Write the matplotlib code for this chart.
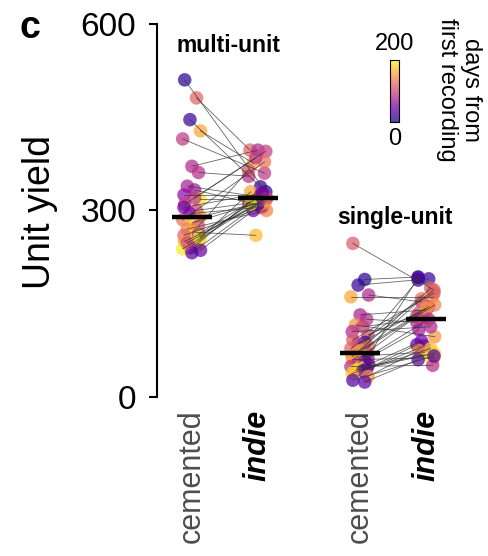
import numpy as np
import matplotlib
matplotlib.use("Agg")
from matplotlib import pyplot as plt

plt.rcParams['font.family'] = ['Liberation Sans', 'DejaVu Sans']

# Unit yields per recording (cemented vs indie), colour = days from first recording
multi_cemented = [510, 481, 446, 428, 415, 371, 361, 339, 333, 325, 318, 310, 300, 295, 290, 285, 280,
                  275, 270, 265, 260, 255, 250, 245, 240, 236, 238, 232, 262, 248, 320, 305, 258]
multi_indie = [330, 397, 338, 376, 360, 397, 355, 320, 310, 325, 318, 395, 312, 305, 310, 378, 312,
               365, 300, 260, 305, 330, 315, 315, 325, 300, 318, 310, 312, 320, 385, 328, 310]
multi_days = [10, 120, 15, 160, 90, 80, 85, 75, 70, 60, 190, 95, 100, 55, 150, 130, 180,
              110, 140, 170, 120, 160, 150, 175, 65, 40, 195, 30, 85, 105, 88, 45, 200]

single_cemented = [247, 189, 180, 164, 161, 132, 125, 116, 113, 105, 100, 92, 88, 85, 81, 78, 75, 71,
                   68, 66, 65, 62, 60, 57, 55, 52, 49, 47, 45, 43, 42, 38, 33, 27, 24]
single_indie = [172, 193, 190, 153, 161, 140, 120, 97, 126, 113, 135, 167, 188, 145, 158, 170, 142, 130,
                148, 72, 175, 108, 63, 192, 125, 90, 51, 68, 84, 70, 82, 78, 75, 66, 60]
single_days = [115, 10, 15, 80, 160, 75, 85, 150, 95, 80, 110, 115, 20, 90, 130, 120, 160, 100,
               140, 190, 120, 70, 165, 25, 85, 45, 85, 195, 35, 185, 40, 175, 150, 30, 35]

group_names = ['multi-unit', 'single-unit']
tick_labels = ['cemented', 'indie', 'cemented', 'indie']
y_ticks = [0, 300, 600]
days_max = 200

# layout
positions = [0, 1, 2.55, 3.55]
jitter = np.array([-0.11, 0.07, -0.03, 0.13, -0.14, 0.0, 0.10, -0.07, 0.04, -0.12, 0.12])
cmap = plt.get_cmap('plasma')

fig = plt.figure(figsize=(4.89, 5.56), dpi=100)
ax = fig.add_axes([0.321, 0.286, 0.611, 0.671])

groups = [(multi_cemented, multi_indie, multi_days), (single_cemented, single_indie, single_days)]
for g, (cem, ind, days) in enumerate(groups):
    cem = np.array(cem)
    ind = np.array(ind)
    days = np.array(days)
    n = len(cem)
    jx = np.resize(jitter, n)
    jx2 = np.resize(jitter[::-1], n)
    x_c = positions[2 * g] + jx
    x_i = positions[2 * g + 1] + jx2
    for k in range(n):
        ax.plot([x_c[k], x_i[k]], [cem[k], ind[k]], color='#333333', lw=0.6, alpha=0.75, zorder=3)
    ax.scatter(x_c, cem, c=days, cmap=cmap, vmin=0, vmax=days_max, s=95, alpha=0.72,
               edgecolors='none', zorder=2)
    ax.scatter(x_i, ind, c=days, cmap=cmap, vmin=0, vmax=days_max, s=95, alpha=0.72,
               edgecolors='none', zorder=2)
    for pos, vals in [(positions[2 * g], cem), (positions[2 * g + 1], ind)]:
        m = np.median(vals)
        ax.plot([pos - 0.3, pos + 0.3], [m, m], color='black', lw=3.2, zorder=4,
                solid_capstyle='butt')

ax.text(0.55, 566, group_names[0], ha='center', va='center', fontsize=16.5, fontweight='bold')
ax.text(3.08, 288, group_names[1], ha='center', va='center', fontsize=16.5, fontweight='bold')

ax.set_xlim(-0.53, 4.0)
ax.set_ylim(0, 600)
ax.set_yticks(y_ticks)
ax.set_yticklabels([str(t) for t in y_ticks])
ax.tick_params(axis='y', labelsize=24, length=6, width=1.5, pad=9)
ax.set_xticks(positions)
ax.set_xticklabels(tick_labels, rotation=90, fontsize=22)
ax.tick_params(axis='x', length=0, pad=9)
for lab in ax.get_xticklabels():
    if lab.get_text() == 'indie':
        lab.set_fontweight('bold')
        lab.set_fontstyle('italic')
        lab.set_color('black')
    else:
        lab.set_color('#4d4d4d')
for s in ['top', 'right', 'bottom']:
    ax.spines[s].set_visible(False)
ax.spines['left'].set_linewidth(1.5)
ax.patch.set_alpha(0)

fig.text(40 / 489, 1 - 212 / 556, 'Unit yield', rotation=90, ha='center', va='center', fontsize=27)
fig.text(30 / 489, 1 - 38 / 556, 'c', ha='center', va='baseline', fontsize=27, fontweight='bold')

# colour bar
cax = fig.add_axes([390 / 489, 1 - 122 / 556, 9 / 489, 62 / 556])
grad = np.linspace(0, days_max, 256)[:, None]
cax.imshow(grad, cmap=cmap, alpha=0.75, aspect='auto', origin='lower',
           extent=[0, 1, 0, days_max], vmin=0, vmax=days_max)
cax.set_xticks([])
cax.set_yticks([])
for s in cax.spines.values():
    s.set_linewidth(0.8)
cax.text(0.5, 1.08, str(days_max), transform=cax.transAxes, ha='center', va='bottom', fontsize=17)
cax.text(0.5, -0.1, '0', transform=cax.transAxes, ha='center', va='top', fontsize=17)
fig.text(459 / 489, 1 - 90 / 556, 'days from\nfirst recording', rotation=270,
         ha='center', va='center', fontsize=17, linespacing=1.1)

fig.savefig('out.png', dpi=100)
